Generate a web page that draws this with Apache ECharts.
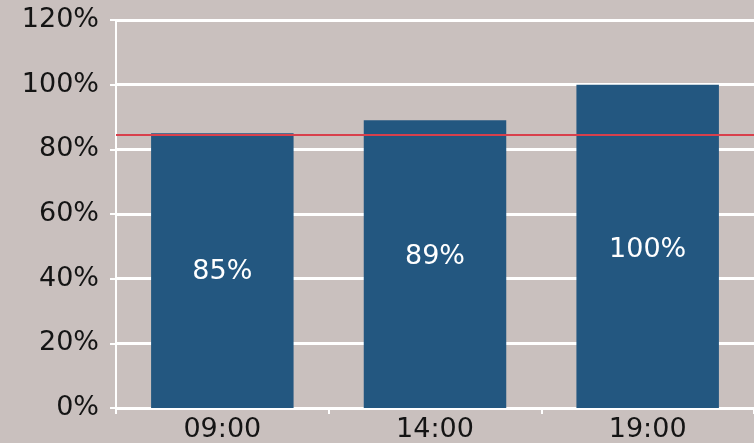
<!DOCTYPE html>
<html>
<head>
<meta charset="utf-8">
<script src="https://cdn.jsdelivr.net/npm/echarts@6/dist/echarts.min.js"></script>
<style>
  html, body { margin: 0; padding: 0; background: #c9c0be; }
  #chart { width: 754px; height: 443px; }
</style>
</head>
<body>
<div id="chart"></div>
<script>
// Occupancy by time of day
const categories = ['09:00', '14:00', '19:00'];
const occupancy = [85, 89, 100];
const targetLevel = 84.5;
const yTicks = { min: 0, max: 120, step: 20 };

// small vertical nudges for the in-bar labels (px)
const labelNudge = [1, -7, 4];

const chart = echarts.init(document.getElementById('chart'));
const font = '"DejaVu Sans", sans-serif';

chart.setOption({
  backgroundColor: '#c9c0be',
  animation: false,
  grid: { left: 116, right: 0, top: 20, bottom: 33, containLabel: false },
  xAxis: {
    type: 'category',
    data: categories,
    axisLine: { show: true, lineStyle: { color: '#ffffff', width: 2 } },
    axisTick: { show: true, alignWithLabel: false, length: 6, lineStyle: { color: '#ffffff', width: 2 } },
    axisLabel: { color: '#141414', fontSize: 27, fontFamily: font, margin: 8 },
    splitLine: { show: false }
  },
  yAxis: {
    type: 'value',
    min: yTicks.min,
    max: yTicks.max,
    interval: yTicks.step,
    axisLine: { show: true, lineStyle: { color: '#ffffff', width: 2 } },
    axisTick: { show: true, length: 6, lineStyle: { color: '#ffffff', width: 2 } },
    axisLabel: { color: '#141414', fontSize: 27, fontFamily: font, margin: 17, formatter: '{value}%' },
    splitLine: { show: true, lineStyle: { color: '#ffffff', width: 3 } }
  },
  series: [
    {
      // reference level, drawn underneath the bars
      type: 'line',
      data: [],
      z: 1,
      silent: true,
      markLine: {
        silent: true,
        symbol: 'none',
        label: { show: false },
        lineStyle: { color: '#d8404c', width: 2, type: 'solid' },
        data: [{ yAxis: targetLevel }]
      }
    },
    {
      type: 'bar',
      data: occupancy.map((v, i) => ({ value: v, label: { offset: [0, labelNudge[i]] } })),
      z: 3,
      barWidth: '67%',
      itemStyle: { color: '#235780' },
      label: {
        show: true,
        position: 'inside',
        color: '#ffffff',
        fontSize: 27,
        fontFamily: font,
        formatter: '{c}%'
      }
    }
  ]
});
</script>
</body>
</html>
